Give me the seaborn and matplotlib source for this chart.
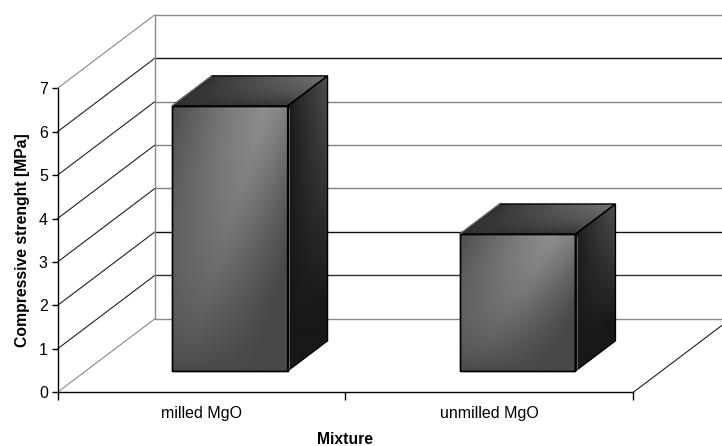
import numpy as np
import pandas as pd
import seaborn as sns
import matplotlib
matplotlib.use("Agg")
import matplotlib.pyplot as plt
from matplotlib.patches import Polygon

mixtures = ["milled MgO", "unmilled MgO"]
strength = [6.10, 3.15]
y_ticks = [0, 1, 2, 3, 4, 5, 6, 7]
grid_colors = ["#8a8a8a", "#303030", "#101010", "#808080", "#808080", "#808080", "#101010", "#8a8a8a"]

sns.set_theme(style="white")
plt.rcParams["font.family"] = ["Liberation Sans", "DejaVu Sans"]

W, H = 722, 446
fig = plt.figure(figsize=(W / 100, H / 100), dpi=100, facecolor="white")
ax = fig.add_axes([57.5 / W, (H - 392.3) / H, (633.3 - 57.5) / W, 304.0 / H])

df = pd.DataFrame({"Mixture": mixtures, "Strength": strength})
sns.barplot(data=df, x="Mixture", y="Strength", width=0.402, color="white",
            edgecolor="black", linewidth=1.0, errorbar=None, ax=ax, zorder=6)

XMIN, XMAX, YMIN, YMAX = -0.5, 1.5, 0, 7
ax.set_xlim(XMIN, XMAX)
ax.set_ylim(YMIN, YMAX)

# depth direction of the pseudo 3-D box, in data units
DX, DY = 97.5 / 288.0, 73.6 / 43.43
FRONT, BACK = 0.29, 0.70

# walls
for k, c in zip(y_ticks, grid_colors):
    ax.plot([XMIN + DX, XMAX + DX], [k + DY, k + DY], color=c, lw=1.0, clip_on=False, zorder=1)
    ax.plot([XMIN, XMIN + DX], [k, k + DY], color=c if k in (0, 7) else "#202020",
            lw=0.8, clip_on=False, zorder=1)
ax.plot([XMIN + DX, XMIN + DX], [DY, 7 + DY], color="#8a8a8a", lw=1.0, clip_on=False, zorder=1)
ax.plot([XMAX, XMAX + DX], [0, DY], color="#202020", lw=0.8, clip_on=False, zorder=1)


def shade(corners, func, zorder):
    """Fill a parallelogram (origin, u-vector, w-vector) with a gray gradient."""
    p0, pu, pw = [np.array(c, float) for c in corners]
    pts = np.array([p0, p0 + pu, p0 + pu + pw, p0 + pw])
    x0, y0 = pts.min(axis=0)
    x1, y1 = pts.max(axis=0)
    xs, ys = np.meshgrid(np.linspace(x0, x1, 300), np.linspace(y0, y1, 300))
    m = np.linalg.inv(np.column_stack([pu, pw]))
    u = m[0, 0] * (xs - p0[0]) + m[0, 1] * (ys - p0[1])
    w = m[1, 0] * (xs - p0[0]) + m[1, 1] * (ys - p0[1])
    u, w = np.clip(u, 0, 1), np.clip(w, 0, 1)
    im = ax.imshow(func(u, w), extent=(x0, x1, y0, y1), origin="lower", aspect="auto",
                   cmap="gray", vmin=0, vmax=255, interpolation="bilinear", zorder=zorder)
    poly = Polygon(pts, closed=True, facecolor="none", edgecolor="black", lw=1.0,
                   transform=ax.transData, clip_on=False, zorder=zorder + 0.5)
    ax.add_patch(poly)
    im.set_clip_path(poly)
    im.set_clip_box(fig.bbox)
    return im


def front_fn(u, w):
    v = 1 - w  # 0 at the top
    centre = 0.82 - 0.72 * v
    d = u - centre
    fall = np.where(d < 0, 0.85, 0.6)
    f = np.clip(1 - (np.abs(d) / fall) ** 1.3, 0, 1)
    return 0x48 + 0x46 * np.clip(1 - v, 0, 1) ** 0.7 * f


def side_fn(u, w):
    return 0x18 + 0x36 * u ** 0.9 * np.clip((w - 0.15) / 0.85, 0, 1) ** 0.9


def top_fn(u, w):
    return 0x30 + 0x44 * u ** 0.8 * w ** 0.7


for bar in ax.containers[0]:
    value = bar.get_height()
    left = bar.get_x() + FRONT * DX
    width = bar.get_width()
    base = FRONT * DY
    bar.set_x(left)
    bar.set_y(base)
    bar.set_facecolor("none")
    dep = ((BACK - FRONT) * DX, (BACK - FRONT) * DY)
    shade(((left, base), (width, 0), (0, value)), front_fn, 3)
    shade(((left + width, base), dep, (0, value)), side_fn, 3)
    shade(((left, base + value), (width, 0), dep), top_fn, 3)
    # light rims
    ax.plot([left, left + dep[0]], [base + value, base + value + dep[1]],
            color="#9a9a9a", lw=0.6, clip_on=False, zorder=7)
    ax.plot([left + width + 0.004] * 2, [base + 0.05, base + value - 0.05],
            color="#808080", lw=0.5, clip_on=False, zorder=7)

ax.set_xlim(XMIN, XMAX)
ax.set_ylim(YMIN, YMAX)

sns.despine(ax=ax, top=True, right=True)
for s in ("left", "bottom"):
    ax.spines[s].set_color("black")
    ax.spines[s].set_linewidth(1.0)
    ax.spines[s].set_zorder(8)

ax.set_yticks(y_ticks)
ax.set_xticks([0, 1])
ax.set_xticklabels(mixtures)
ax.set_xticks([-0.5, 0.5, 1.5], minor=True)
ax.tick_params(axis="y", which="major", left=True, length=4, width=1, color="black",
               labelsize=11.5, labelcolor="black", pad=3)
ax.tick_params(axis="x", which="major", bottom=False, length=0, labelsize=11.5,
               labelcolor="black", pad=10)
ax.tick_params(axis="x", which="minor", bottom=True, length=6, width=1, color="black")
ax.set_xlabel("Mixture", fontsize=11.3, fontweight="bold", color="black", labelpad=7.5)
ax.set_ylabel("Compressive strenght [MPa]", fontsize=11.3, fontweight="bold", color="black", labelpad=6)
ax.patch.set_alpha(0)

fig.savefig("out.png", dpi=100, facecolor="white")
